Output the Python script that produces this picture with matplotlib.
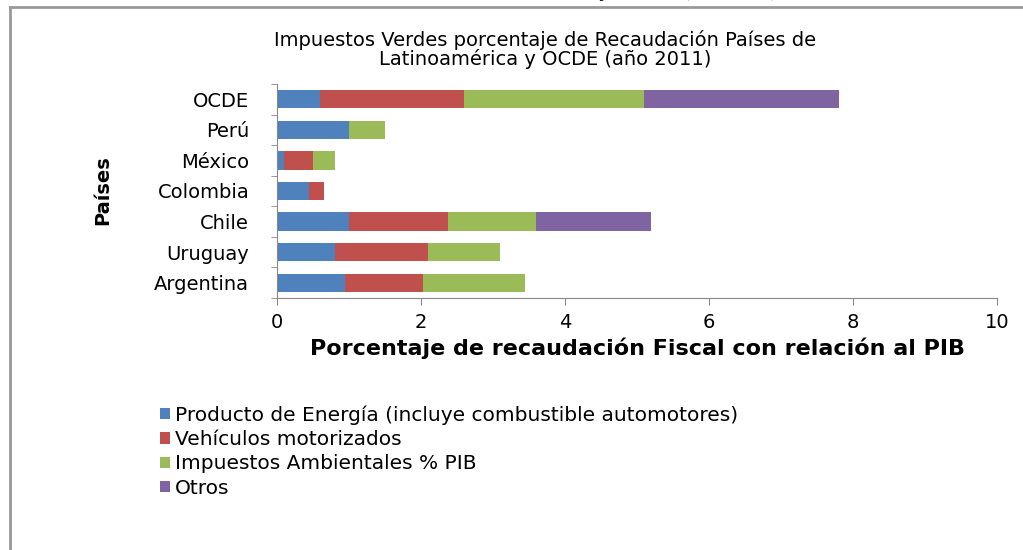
import numpy as np
import matplotlib.pyplot as plt
from matplotlib.lines import Line2D

# data
paises = ['Argentina', 'Uruguay', 'Chile', 'Colombia', 'México', 'Perú', 'OCDE']
energia = [0.95, 0.80, 1.00, 0.45, 0.10, 1.00, 0.60]
vehiculos = [1.08, 1.30, 1.38, 0.20, 0.40, 0.00, 2.00]
ambientales = [1.42, 1.00, 1.22, 0.00, 0.30, 0.50, 2.50]
otros = [0.00, 0.00, 1.60, 0.00, 0.00, 0.00, 2.70]

series = ['Producto de Energía (incluye combustible automotores)',
          'Vehículos motorizados',
          'Impuestos Ambientales % PIB',
          'Otros']
colors = ['#4F81BD', '#C0504D', '#9BBB59', '#8064A2']

fig = plt.figure(figsize=(10.23, 5.5), dpi=100)
ax = fig.add_axes([277 / 1023, 1 - 298 / 550, 720 / 1023, 214 / 550])

y = np.arange(len(paises))
left = np.zeros(len(paises))
for vals, name, c in zip([energia, vehiculos, ambientales, otros], series, colors):
    ax.barh(y, vals, left=left, height=0.6, color=c, label=name)
    left = left + np.array(vals)

ax.set_xlim(0, 10)
ax.set_ylim(-0.5, len(paises) - 0.5)
ax.set_xticks(np.arange(0, 11, 2))
ax.set_yticks(y)
ax.set_yticklabels(paises, fontsize=14)
ax.set_yticks(np.arange(-0.5, len(paises), 1), minor=True)
ax.tick_params(axis='y', which='major', length=0, pad=20)
ax.tick_params(axis='y', which='minor', length=4, color='#888888')
ax.tick_params(axis='x', length=5, color='#888888', labelsize=14, pad=6)

for s in ['top', 'right']:
    ax.spines[s].set_visible(False)
for s in ['left', 'bottom']:
    ax.spines[s].set_color('#888888')

ax.set_xlabel('Porcentaje de recaudación Fiscal con relación al PIB',
              fontsize=16, fontweight='bold', labelpad=4)
fig.text(103 / 1023, 1 - 190 / 550, 'Países', rotation=90, fontsize=14,
         fontweight='bold', ha='center', va='center')

fig.text(545 / 1023, 1 - 40 / 550, 'Impuestos Verdes porcentaje de Recaudación Países de',
         fontsize=14, ha='center', va='center')
fig.text(545 / 1023, 1 - 59 / 550, 'Latinoamérica y OCDE (año 2011)',
         fontsize=14, ha='center', va='center')

# cropped caption above the frame (only its lower edge shows)
fig.text(610 / 1023, 1 + 9 / 550, 'latinoamericanos y OCDE (año 2011)',
         fontsize=16, family='Liberation Serif', ha='center', va='center')

# outer frame
fig.add_artist(Line2D([10 / 1023, 10 / 1023], [0, 1 - 7 / 550], color='#999999', lw=2))
fig.add_artist(Line2D([10 / 1023, 1], [1 - 7 / 550, 1 - 7 / 550], color='#999999', lw=2))

handles, labels = ax.get_legend_handles_labels()
fig.legend(handles, labels, loc='upper left', bbox_to_anchor=(152 / 1023, 1 - 397 / 550),
           frameon=False, fontsize=14.5, handlelength=0.5, handleheight=0.5,
           handletextpad=0.25, labelspacing=0.27, borderaxespad=0)

fig.savefig('out.png', dpi=100)
